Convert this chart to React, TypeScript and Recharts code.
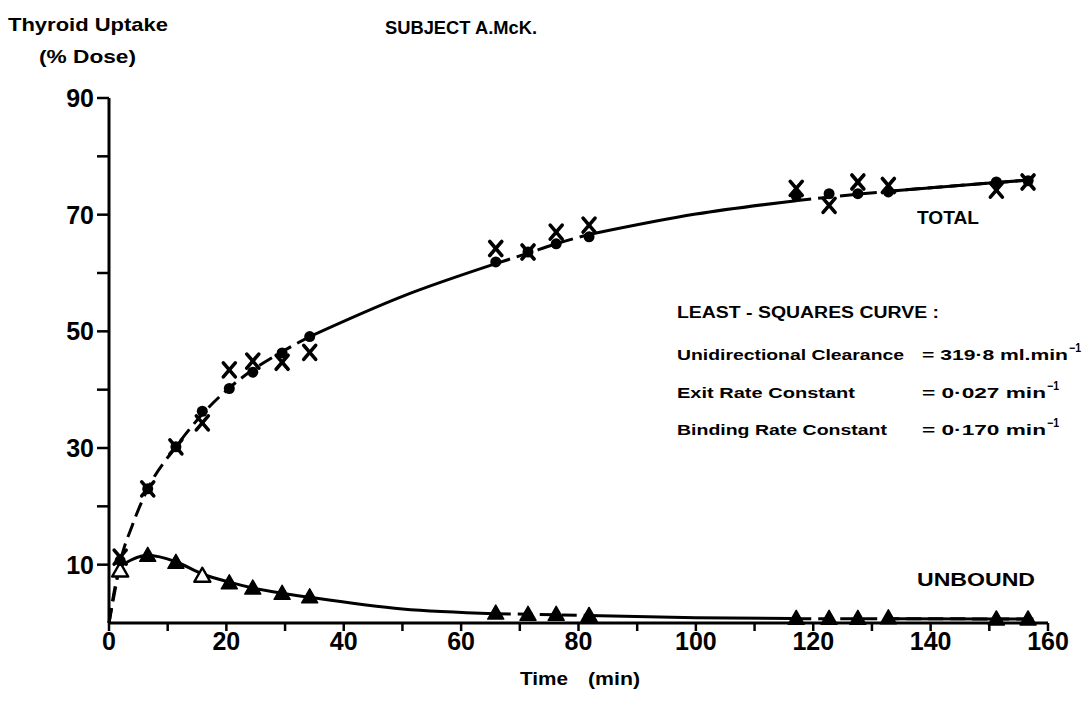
import React from 'react';
import { ComposedChart, Line, Scatter, XAxis, YAxis } from 'recharts';

// Sampling times (min)
const sampleTimes = [1.9, 6.6, 11.4, 15.9, 20.5, 24.5, 29.5, 34.2, 65.9, 71.4, 76.2, 81.8, 117.1, 122.7, 127.6, 132.8, 151.2, 156.6];
// TOTAL uptake, two measurement sets (% dose)
const totalDots = [10.7, 23.0, 30.2, 36.3, 40.2, 43.0, 46.3, 49.1, 61.9, 63.6, 65.0, 66.2, 73.2, 73.6, 73.6, 73.9, 75.6, 75.8];
const totalCrosses = [11.3, 23.0, 30.2, 34.3, 43.4, 44.9, 44.7, 46.4, 64.2, 63.6, 67.0, 68.2, 74.5, 71.6, 75.6, 75.0, 74.2, 75.6];
// UNBOUND (% dose)
const unboundTriangles = [9.0, 11.6, 10.4, 8.1, 6.9, 6.0, 5.1, 4.5, 1.7, 1.5, 1.5, 1.3, 0.8, 0.8, 0.8, 0.9, 0.7, 0.7];
const unboundHollow = [true, false, false, true, false, false, false, false, false, false, false, false, false, false, false, false, false, false];

// Least-squares curves
const curveTimes = [0, 1, 1.9, 4, 6.6, 11.4, 15.9, 20.5, 24.5, 29.5, 34.2, 50, 65.9, 71.4, 76.2, 81.8, 100, 117.1, 122.7, 127.6, 132.8, 151.2, 157.5];
const totalCurve = [0, 5.5, 10.3, 16.8, 23.0, 30.2, 35.8, 40.3, 43.4, 46.5, 49.1, 56.0, 61.6, 63.4, 65.0, 66.6, 70.1, 72.4, 73.0, 73.5, 74.0, 75.5, 76.0];
const unboundCurve = [0, 6.0, 9.7, 10.9, 11.6, 10.5, 8.4, 7.0, 6.0, 5.1, 4.4, 2.4, 1.6, 1.5, 1.4, 1.3, 0.9, 0.75, 0.75, 0.75, 0.75, 0.7, 0.7];

// Spans of the curves drawn dashed (between closely spaced points)
const totalDashedSpans = [[0, 34.2], [65.9, 81.8], [117.1, 132.8], [151.2, 157.5]];
const unboundDashedSpans = [[0, 1.9], [65.9, 81.8], [117.1, 132.8], [151.2, 157.5]];

const xTicks = [0, 10, 20, 30, 40, 50, 60, 70, 80, 90, 100, 110, 120, 130, 140, 150, 160];
const xTickLabels = [0, 20, 40, 60, 80, 100, 120, 140, 160];
const yTicks = [10, 20, 30, 40, 50, 60, 70, 80, 90];
const yTickLabels = [10, 30, 50, 70, 90];

const FONT = '"Liberation Sans", Arial, sans-serif';

const inside = (t: number, spans: number[][]) => spans.some(([a, b]) => t >= a && t <= b);
const strictlyInside = (t: number, spans: number[][]) => spans.some(([a, b]) => t > a && t < b);

const curveRows = curveTimes.map((t, i) => ({
  t,
  totalDash: inside(t, totalDashedSpans) ? totalCurve[i] : null,
  totalSolid: !strictlyInside(t, totalDashedSpans) ? totalCurve[i] : null,
  unboundDash: inside(t, unboundDashedSpans) ? unboundCurve[i] : null,
  unboundSolid: !strictlyInside(t, unboundDashedSpans) ? unboundCurve[i] : null,
}));

const dotRows = sampleTimes.map((t, i) => ({ t, v: totalDots[i] }));
const crossRows = sampleTimes.map((t, i) => ({ t, v: totalCrosses[i] }));
const triRows = sampleTimes.map((t, i) => ({ t, v: unboundTriangles[i], hollow: unboundHollow[i] }));

const DotShape = (p: any) => <circle cx={p.cx} cy={p.cy} r={5.5} fill="#000" />;
const CrossShape = (p: any) => (
  <g stroke="#000" strokeWidth={3.6} strokeLinecap="round">
    <line x1={p.cx - 6} y1={p.cy - 7} x2={p.cx + 6} y2={p.cy + 7} />
    <line x1={p.cx + 6} y1={p.cy - 7} x2={p.cx - 6} y2={p.cy + 7} />
  </g>
);
const TriShape = (p: any) => {
  const hollow = p.payload && p.payload.hollow;
  const pts = `${p.cx},${p.cy - 8} ${p.cx - 8},${p.cy + 6} ${p.cx + 8},${p.cy + 6}`;
  return hollow ? (
    <polygon points={pts} fill="#fff" stroke="#000" strokeWidth={2.5} strokeLinejoin="round" />
  ) : (
    <polygon points={pts} fill="#000" stroke="#000" strokeWidth={1.5} strokeLinejoin="round" />
  );
};

const XTick = (p: any) => {
  if (!xTickLabels.includes(p.payload.value)) return <g />;
  return (
    <text x={p.x} y={p.y + 17} textAnchor="middle" fontFamily={FONT} fontWeight={700} fontSize={25} fill="#000">
      {p.payload.value}
    </text>
  );
};
const YTick = (p: any) => {
  if (!yTickLabels.includes(p.payload.value)) return <g />;
  return (
    <text x={p.x} y={p.y + 9} textAnchor="end" fontFamily={FONT} fontWeight={700} fontSize={25} fill="#000">
      {p.payload.value}
    </text>
  );
};

const lineCommon = {
  type: 'monotone' as const,
  stroke: '#000',
  strokeWidth: 3,
  dot: false,
  activeDot: false,
  connectNulls: false,
  isAnimationActive: false,
};

const T = (props: any) => (
  <text fontFamily={FONT} fontWeight={700} fill="#000" lengthAdjust="spacingAndGlyphs" {...props} />
);

export default function App() {
  return (
    <div style={{ position: 'absolute', left: 0, top: 0, width: 1088, height: 715, background: '#fff' }}>
      <ComposedChart
        width={1088}
        height={715}
        data={curveRows}
        margin={{ top: 98, right: 40, bottom: 52, left: 29 }}
      >
        <XAxis
          type="number"
          dataKey="t"
          domain={[0, 160]}
          ticks={xTicks}
          interval={0}
          height={40}
          tickSize={8}
          tickMargin={2}
          stroke="#000"
          axisLine={{ stroke: '#000', strokeWidth: 3 }}
          tickLine={{ stroke: '#000', strokeWidth: 2.5 }}
          tick={XTick}
        />
        <YAxis
          type="number"
          domain={[0, 90]}
          ticks={yTicks}
          interval={0}
          width={80}
          tickSize={12}
          tickMargin={3}
          stroke="#000"
          axisLine={{ stroke: '#000', strokeWidth: 3 }}
          tickLine={{ stroke: '#000', strokeWidth: 2.5 }}
          tick={YTick}
        />
        <Line {...lineCommon} dataKey="totalSolid" />
        <Line {...lineCommon} dataKey="totalDash" strokeDasharray="15 7" />
        <Line {...lineCommon} dataKey="unboundSolid" />
        <Line {...lineCommon} dataKey="unboundDash" strokeDasharray="15 7" />
        <Scatter data={triRows} dataKey="v" shape={TriShape} isAnimationActive={false} />
        <Scatter data={dotRows} dataKey="v" shape={DotShape} isAnimationActive={false} />
        <Scatter data={crossRows} dataKey="v" shape={CrossShape} isAnimationActive={false} />
      </ComposedChart>
      <svg width={1088} height={715} style={{ position: 'absolute', left: 0, top: 0, pointerEvents: 'none' }}>
        <T x={8} y={31} fontSize={19} textLength={160}>Thyroid Uptake</T>
        <T x={39} y={63} fontSize={19} textLength={97}>(% Dose)</T>
        <T x={385} y={34} fontSize={18} textLength={152}>SUBJECT A.McK.</T>
        <T x={917} y={224} fontSize={19} textLength={62}>TOTAL</T>
        <T x={917} y={586} fontSize={19} textLength={118}>UNBOUND</T>
        <T x={677} y={318} fontSize={16} textLength={262}>LEAST - SQUARES CURVE :</T>
        <T x={677} y={360} fontSize={15} textLength={227}>Unidirectional Clearance</T>
        <T x={922} y={360} fontSize={15} textLength={146}>= 319·8 ml.min</T>
        <T x={1069} y={352} fontSize={12} textLength={12}>−1</T>
        <T x={677} y={398} fontSize={15} textLength={178}>Exit Rate Constant</T>
        <T x={922} y={398} fontSize={15} textLength={124}>= 0·027 min</T>
        <T x={1047} y={390} fontSize={12} textLength={12}>−1</T>
        <T x={677} y={435} fontSize={15} textLength={210}>Binding Rate Constant</T>
        <T x={922} y={435} fontSize={15} textLength={124}>= 0·170 min</T>
        <T x={1047} y={427} fontSize={12} textLength={12}>−1</T>
        <T x={520} y={685} fontSize={19} textLength={48}>Time</T>
        <T x={588} y={685} fontSize={19} textLength={52}>(min)</T>
      </svg>
    </div>
  );
}
